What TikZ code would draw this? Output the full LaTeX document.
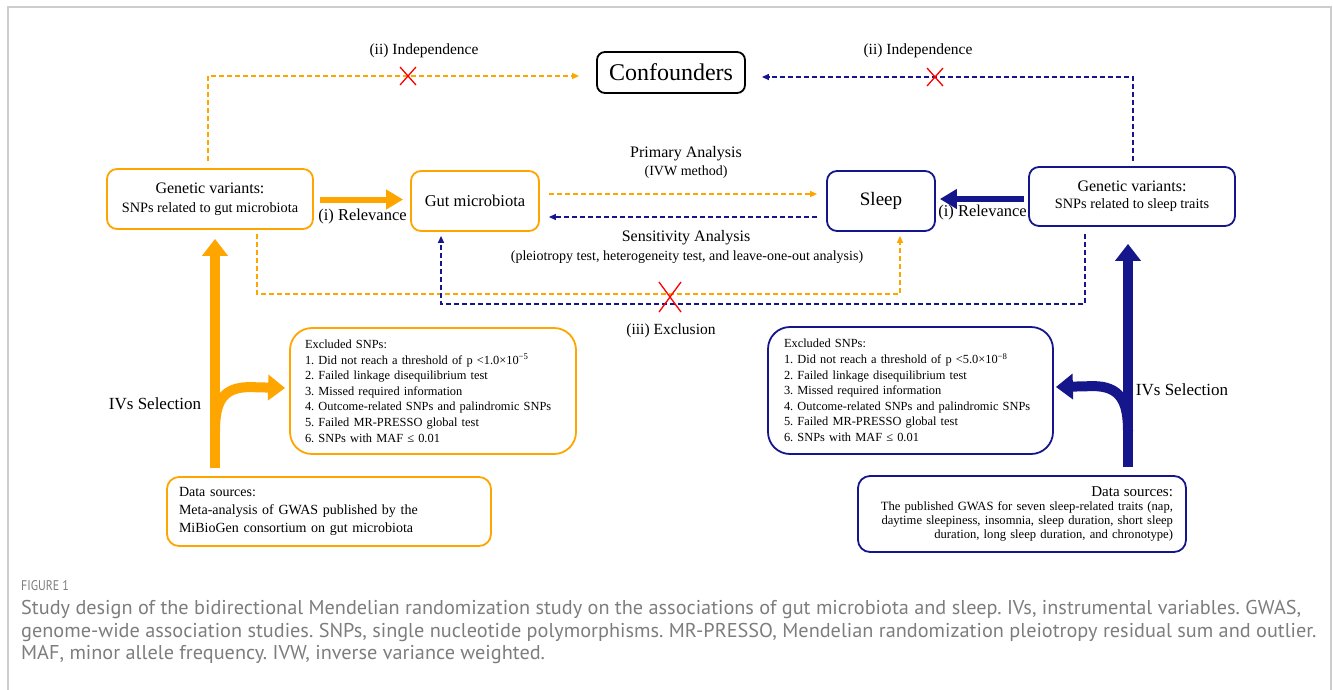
\documentclass[tikz,border=0pt]{standalone}
\usepackage{fontspec}
\setmainfont{Liberation Serif}
\newfontfamily\capfont{PT Sans}
\usetikzlibrary{arrows.meta,calc}
\definecolor{org}{RGB}{255,165,0}
\definecolor{nvy}{RGB}{22,22,140}
\definecolor{capgray}{RGB}{125,125,125}
\definecolor{framegray}{RGB}{205,205,205}
\newlength\capw
\begin{document}
\frenchspacing
\settowidth\capw{\capfont\fontsize{20}{22}\selectfont Study design of the bidirectional Mendelian randomization study on the associations of gut microbiota and sleep. IVs, instrumental variables. GWAS,}%
\pgfmathsetmacro\capsc{1280/\capw}%
\begin{tikzpicture}[x=1pt,y=-1pt,
  box/.style={draw, line width=1.8pt, rounded corners=10pt, inner sep=0pt, align=center},
  obox/.style={box, draw=org},
  bbox/.style={box, draw=nvy},
  dO/.style={draw=org, line width=1.4pt, dash pattern=on 5pt off 3pt, -{Triangle[length=7pt,width=6pt]}},
  dB/.style={draw=nvy, line width=1.4pt, dash pattern=on 5pt off 3pt, -{Triangle[length=7pt,width=6pt]}},
  bigO/.style={draw=org, line width=6pt, -{Triangle[length=17pt,width=19pt]}},
  bigB/.style={draw=nvy, line width=6pt, -{Triangle[length=17pt,width=19pt]}},
  vO/.style={draw=org, line width=10pt, -{Triangle[length=17pt,width=25pt]}},
  vB/.style={draw=nvy, line width=10pt, -{Triangle[length=17pt,width=25pt]}},
  lbl/.style={inner sep=0pt, font=\fontsize{16}{19}\selectfont},
  xmark/.style={draw=red, line width=1.3pt},
  capline/.style={inner sep=0pt, anchor=west, text=capgray}
]
\useasboundingbox (0,0) rectangle (1333,689);
\draw[framegray, line width=1.5pt] (8,700) -- (8,7) -- (1331,7) -- (1331,700);

% main nodes
\node[obox, minimum width=206pt, minimum height=60pt, font=\fontsize{16}{19}\selectfont] (gvL) at (210,199)
  {Genetic variants:\\{\fontsize{14.3}{19}\selectfont SNPs related to gut microbiota}};
\node[obox, minimum width=128pt, minimum height=60pt, font=\fontsize{16.5}{19}\selectfont] (gut) at (475,201) {Gut microbiota};
\node[box, draw=black, rounded corners=8pt, minimum width=148pt, minimum height=41pt, font=\fontsize{24}{28}\selectfont] (conf) at (671,72.5) {Confounders};
\node[bbox, minimum width=108pt, minimum height=60pt, font=\fontsize{19}{22}\selectfont] (sleep) at (881,201) {Sleep};
\node[bbox, minimum width=206pt, minimum height=59pt, font=\fontsize{16}{17}\selectfont] (gvR) at (1132,196.5)
  {Genetic variants:\\{\fontsize{14.3}{17}\selectfont SNPs related to sleep traits}};

\node[obox, rounded corners=22pt, inner xsep=15pt, text width=256pt, minimum height=126pt, align=left, font=\fontsize{12.4}{15.6}\selectfont] (exL) at (433,391)
  {Excluded SNPs:\\
   1. Did not reach a threshold of p <1.0×10\textsuperscript{−5}\\
   2. Failed linkage disequilibrium test\\
   3. Missed required information\\
   4. Outcome-related SNPs and palindromic SNPs\\
   5. Failed MR-PRESSO global test\\
   6. SNPs with MAF ≤ 0.01};
\node[bbox, rounded corners=22pt, inner xsep=16pt, text width=253pt, minimum height=127pt, align=left, font=\fontsize{12.4}{15.6}\selectfont] (exR) at (910.5,390.5)
  {Excluded SNPs:\\
   1. Did not reach a threshold of p <5.0×10\textsuperscript{−8}\\
   2. Failed linkage disequilibrium test\\
   3. Missed required information\\
   4. Outcome-related SNPs and palindromic SNPs\\
   5. Failed MR-PRESSO global test\\
   6. SNPs with MAF ≤ 0.01};
\node[obox, rounded corners=12pt, inner xsep=12pt, text width=300pt, minimum height=69pt, align=left, font=\fontsize{14}{18}\selectfont] (dsL) at (329,511.5)
  {Data sources:\\
   Meta-analysis of GWAS published by the\\
   MiBioGen consortium on gut microbiota};
\node[bbox, rounded corners=12pt, inner xsep=13pt, text width=302pt, minimum height=76pt, align=right, font=\fontsize{12.6}{14}\selectfont] (dsR) at (1022,514)
  {{\fontsize{15}{14}\selectfont Data sources:}\\
   The published GWAS for seven sleep-related traits (nap,\\
   daytime sleepiness, insomnia, sleep duration, short sleep\\
   duration, long sleep duration, and chronotype)};

% labels
\node[lbl, font=\fontsize{15.5}{18}\selectfont] (indL) at (424,51) {(ii) Independence};
\node[lbl, font=\fontsize{15.5}{18}\selectfont] (indR) at (918,51) {(ii) Independence};
\node[lbl, font=\fontsize{16.5}{19}\selectfont] (relL) at (362.5,216.5) {(i) Relevance};
\node[lbl, font=\fontsize{16.5}{19}\selectfont] (relR) at (982.5,212.5) {(i) Relevance};
\node[lbl] (prim) at (686,154) {Primary Analysis};
\node[lbl, font=\fontsize{14}{17}\selectfont] (ivw) at (686,172) {(IVW method)};
\node[lbl] (sens) at (686,238) {Sensitivity Analysis};
\node[lbl, font=\fontsize{14}{17}\selectfont] (sens2) at (687,257) {(pleiotropy test, heterogeneity test, and leave-one-out analysis)};
\node[lbl, font=\fontsize{15.5}{18}\selectfont] (excl) at (671,331) {(iii) Exclusion};
\node[lbl, font=\fontsize{17}{20}\selectfont] (ivsL) at (155,404) {IVs Selection};
\node[lbl, font=\fontsize{17}{20}\selectfont] (ivsR) at (1182,390) {IVs Selection};

% relevance arrows
\draw[bigO] ($(gvL.east)+(6,0.5)$) -- ($(gut.west)+(-7,-1.5)$);
\draw[bigB] ($(gvR.west)+(-4,2.5)$) -- ($(sleep.east)+(4,-2)$);

% analyses
\draw[dO] ($(gut.east)+(9,-7)$) -- ($(sleep.west)+(-9,-7)$);
\draw[dB] ($(sleep.west)+(-9,16)$) -- ($(gut.east)+(9,16)$);

% independence
\draw[dO] ($(gvL.north)+(-2,-7)$) |- ($(conf.west)+(-17,3.5)$);
\draw[dB] ($(gvR.north)+(1,-5)$) |- ($(conf.east)+(16,4.5)$);
\coordinate (x1) at (408,76);
\coordinate (x2) at (935,77);
\draw[xmark] ($(x1)+(-8,-9)$) -- ($(x1)+(8,9)$) ($(x1)+(-8,9)$) -- ($(x1)+(8,-9)$);
\draw[xmark] ($(x2)+(-8,-9)$) -- ($(x2)+(8,9)$) ($(x2)+(-8,9)$) -- ($(x2)+(8,-9)$);

% exclusion
\draw[dO] ($(gvL.south)+(47,4)$) -- ($(gvL.south)+(47,64)$) -| ($(sleep.south)+(19,4)$);
\draw[dB] ($(gvR.south)+(-47,7)$) -- ($(gvR.south)+(-47,77)$) -| ($(gut.south)+(-34,4)$);
\coordinate (x3) at (670,297);
\draw[xmark] ($(x3)+(-11,-15)$) -- ($(x3)+(11,15)$) ($(x3)+(-11,15)$) -- ($(x3)+(11,-15)$);

% IV selection arrows
\coordinate (oB) at ($(dsL.north)+(-114,-8)$);
\coordinate (oS) at ($(oB)+(0,-37)$);
\draw[vO] (oB) -- ($(gvL.south)+(5,9)$);
\draw[vO] (oS) .. controls ($(oS)+(0,-30)$) and ($(oS)+(8,-44)$) .. ($(oS)+(35,-44)$) -- ($(exL.west)+(-4,-3)$);
\coordinate (bB) at ($(dsR.north)+(106,-8)$);
\coordinate (bS) at ($(bB)+(0,-36)$);
\draw[vB] (bB) -- ($(gvR.south)+(-4,17)$);
\draw[vB] (bS) .. controls ($(bS)+(0,-30)$) and ($(bS)+(-8,-45)$) .. ($(bS)+(-35,-45)$) -- ($(exR.east)+(2,-3.5)$);

% caption
\node[capline, font=\capfont\fontsize{14}{15}\selectfont] (fig) at (21,586) {\scalebox{0.85}[1]{FIGURE 1}};
\node[capline, font=\capfont\fontsize{20}{22}\selectfont] (cap1) at (21,609) {\scalebox{\capsc}[1]{Study design of the bidirectional Mendelian randomization study on the associations of gut microbiota and sleep. IVs, instrumental variables. GWAS,}};
\node[capline, font=\capfont\fontsize{20}{22}\selectfont] (cap2) at (21,632) {\scalebox{\capsc}[1]{genome-wide association studies. SNPs, single nucleotide polymorphisms. MR-PRESSO, Mendelian randomization pleiotropy residual sum and outlier.}};
\node[capline, font=\capfont\fontsize{20}{22}\selectfont] (cap3) at (21,654) {\scalebox{\capsc}[1]{MAF, minor allele frequency. IVW, inverse variance weighted.}};
\end{tikzpicture}
\end{document}
